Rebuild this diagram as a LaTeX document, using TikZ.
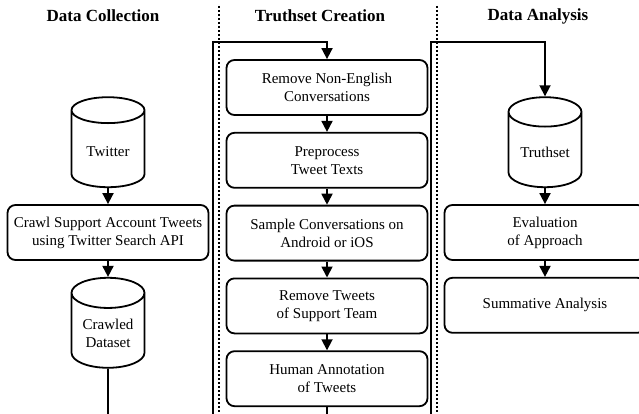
\documentclass[tikz,border=0pt]{standalone}
\usepackage{fontspec}
\setmainfont{Liberation Serif}
\usetikzlibrary{shapes.geometric, arrows.meta, positioning, calc}

\tikzset{
  stepbox/.style={draw, line width=1.8pt, rounded corners=8pt, minimum width=201pt, minimum height=55pt, align=center, inner sep=2pt},
  store/.style={draw, line width=1.8pt, cylinder, shape border rotate=90, aspect=0.55, minimum width=73pt, minimum height=90pt, align=center, inner sep=2pt},
  heading/.style={font=\fontsize{17}{20}\selectfont\bfseries},
  flow/.style={line width=1.8pt, -{Triangle[length=11pt,width=11pt]}},
  wire/.style={line width=1.8pt},
  divider/.style={line width=1.5pt, dash pattern=on 2pt off 2pt},
}

\begin{document}
\begin{tikzpicture}[x=1pt, y=1pt, node distance=16pt, every node/.style={font=\fontsize{15}{18}\selectfont}]
\useasboundingbox (0,0) rectangle (639,-414);

% headings
\node[heading] (hCollect) at (103,-16) {Data Collection};
\node[heading] (hCreate) at (320,-16) {Truthset Creation};
\node[heading] (hAnalyse) at (538,-16) {Data Analysis};

% lane separators
\coordinate (sepAtop) at (219,-6);
\coordinate (sepAbot) at (219,-414);
\coordinate (sepBtop) at (437,-6);
\coordinate (sepBbot) at (437,-414);
\draw[divider] (sepAtop) -- (sepAbot);
\draw[divider] (sepBtop) -- (sepBbot);

% data collection
\node[stepbox] (crawl) at (108,-232.5) {Crawl Support Account Tweets\\using Twitter Search API};
\node[store, above=of crawl] (twitter) {Twitter};
\node[store, below=of crawl] (crawled) {Crawled\\Dataset};

% truthset creation
\node[stepbox] (nonEnglish) at (327,-87.5) {Remove Non-English\\Conversations};
\node[stepbox, below=of nonEnglish] (preprocess) {Preprocess\\Tweet Texts};
\node[stepbox, below=of preprocess] (sample) {Sample Conversations on\\Android or iOS};
\node[stepbox, below=of sample] (supportTeam) {Remove Tweets\\of Support Team};
\node[stepbox, below=of supportTeam] (annotate) {Human Annotation\\of Tweets};

% data analysis
\node[stepbox] (evaluate) at (545,-232.5) {Evaluation\\of Approach};
\node[store, above=of evaluate] (truthset) {Truthset};
\node[stepbox, below=of evaluate] (summative) {Summative Analysis};

% connectors
\draw[flow] (twitter) -- (crawl);
\draw[flow] (crawl) -- (crawled);
\draw[flow] (nonEnglish) -- (preprocess);
\draw[flow] (preprocess) -- (sample);
\draw[flow] (sample) -- (supportTeam);
\draw[flow] (supportTeam) -- (annotate);
\draw[flow] (truthset) -- (evaluate);
\draw[flow] (evaluate) -- (summative);

\coordinate (crawledOut) at (108,-414);
\coordinate (annotateOut) at (327,-414);
\coordinate (loopAin) at (213,-414);
\coordinate (loopAtop) at (213,-42);
\coordinate (loopBin) at (431,-414);
\coordinate (loopBtop) at (431,-42);
\draw[wire] (crawled.south) -- (crawledOut);
\draw[wire] (annotate.south) -- (annotateOut);
\draw[flow] (loopAin) -- (loopAtop) -| (nonEnglish.north);
\draw[flow] (loopBin) -- (loopBtop) -| (truthset.top);
\end{tikzpicture}
\end{document}
